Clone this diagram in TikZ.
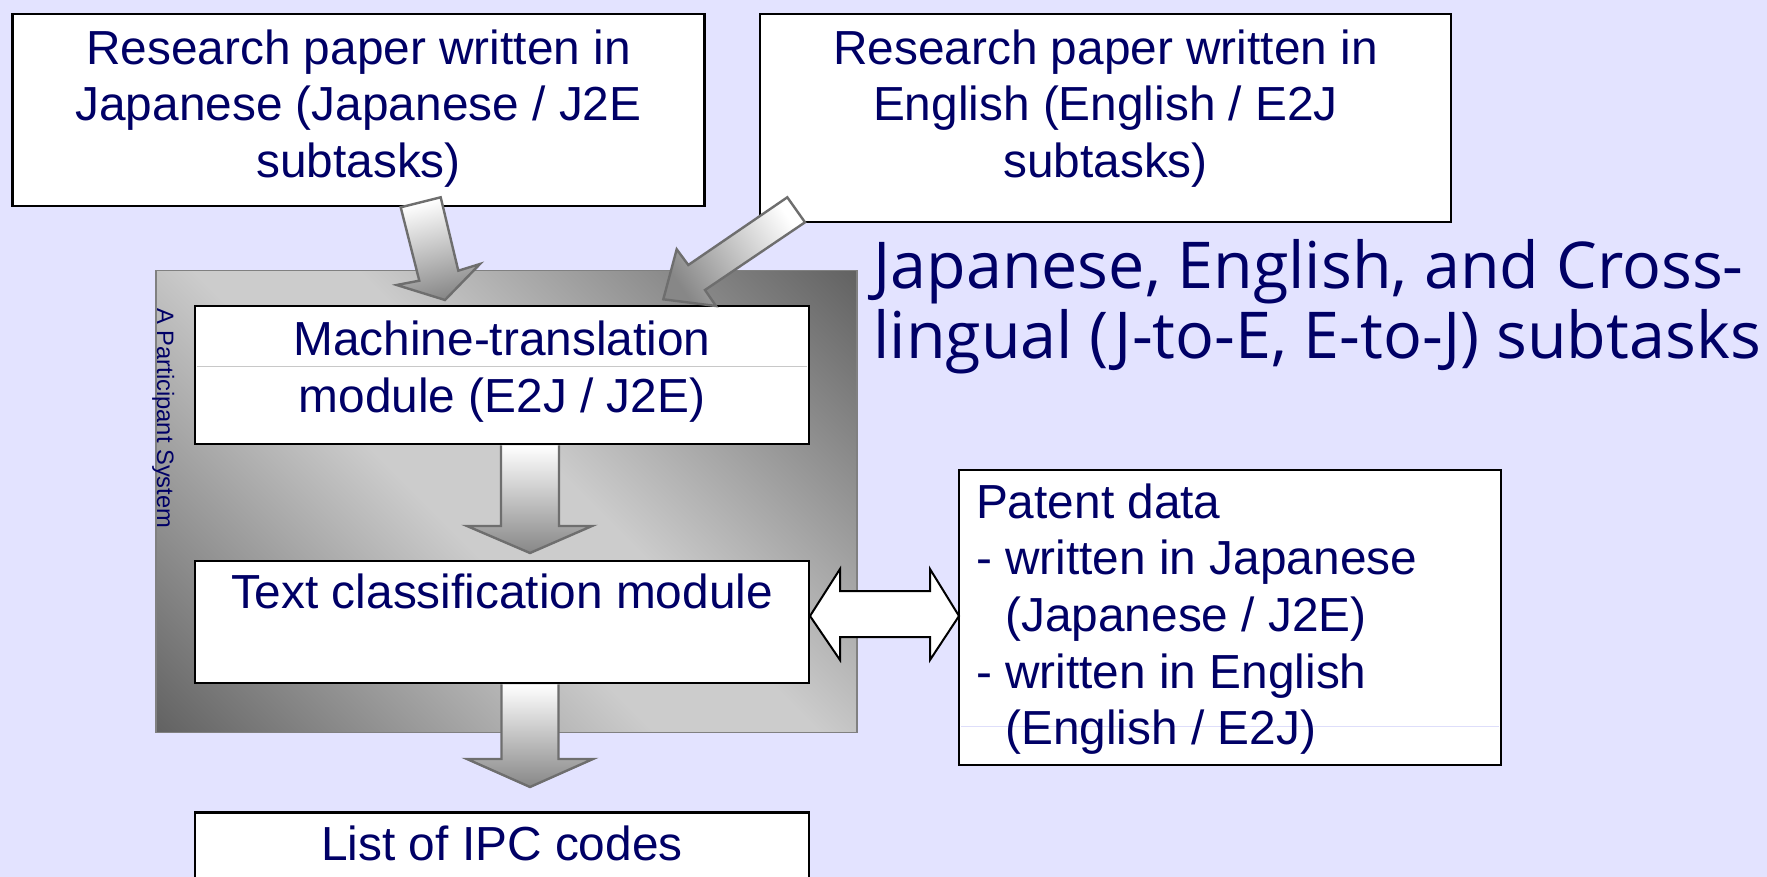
\documentclass[tikz,border=0pt]{standalone}
\usepackage{fontspec}
\setmainfont{Liberation Sans}
\newfontfamily\headfont{Open Sans}
\usetikzlibrary{calc}
\definecolor{pagebg}{RGB}{227,227,255}
\definecolor{ink}{RGB}{0,0,102}
\definecolor{framegray}{RGB}{128,128,128}
\definecolor{sysdark}{RGB}{96,96,96}
\definecolor{syslight}{RGB}{204,204,204}
\definecolor{arrowline}{RGB}{110,110,110}
\definecolor{tipgray}{RGB}{135,135,135}
\definecolor{ruleline}{RGB}{200,200,200}
\definecolor{rulelav}{RGB}{222,222,250}
% dark - light - dark ramp for the system frame
\pgfdeclareverticalshading{sysband}{100bp}{color(0bp)=(sysdark); color(14bp)=(sysdark);
  color(45bp)=(syslight); color(55bp)=(syslight); color(86bp)=(sysdark); color(100bp)=(sysdark)}
\begin{document}
\begin{tikzpicture}[x=0.5pt,y=-0.5pt,
  box/.style={draw=black, line width=1.35pt, fill=white, inner sep=0pt, outer sep=0pt},
  boxtext/.style={text=ink, font=\fontsize{23.9}{28.35}\selectfont, inner sep=0pt, align=center},
  blockarrow/.style={draw=arrowline, line width=1.2pt, line join=miter, top color=white, bottom color=tipgray},
  dblarrow/.style={draw=black, line width=1pt, line join=miter, fill=white},
]
% page
\fill[pagebg] (0,0) rectangle (1767,877);
\useasboundingbox (0,0) rectangle (1767,877);
\clip (0,0) rectangle (1767,877);

% participant system frame
\node[draw=framegray, line width=0.8pt, shading=sysband, shading angle=-45,
      inner sep=0pt, outer sep=0pt,
      minimum width=350.5pt, minimum height=231pt] (sys) at (506.5,501.5) {};
\node[rotate=-90, anchor=base west, text=ink, inner sep=0pt,
      font=\fontsize{11.85}{14}\selectfont] (syslabel) at (157,308) {A Participant System};

% boxes
\node[box, minimum width=346pt, minimum height=96pt] (paperJ) at (358.5,110) {};
\node[box, minimum width=345.5pt, minimum height=104pt] (paperE) at (1105.5,118) {};
\node[box, minimum width=307pt, minimum height=69pt] (mt) at (502,375) {};
\node[box, minimum width=307pt, minimum height=61pt] (tc) at (502,622) {};
\node[box, minimum width=307pt, minimum height=73.5pt] (ipc) at (502,886) {};
\node[box, minimum width=271pt, minimum height=147.5pt] (patent) at (1230,617.5) {};

% faint rules inside boxes
\draw[ruleline, line width=0.5pt] ($(mt.west)+(2,-9)$) -- ($(mt.east)+(-2,-9)$);
\draw[rulelav, line width=0.5pt] ($(patent.west)+(2,108.5)$) -- ($(patent.east)+(-2,108.5)$);

% box texts
\node[boxtext, anchor=north] (paperJtext) at (358.5,29.1)
  {Research paper written in\\Japanese (Japanese / J2E\\subtasks)};
\node[boxtext, anchor=north] (paperEtext) at (1105.5,29.1)
  {Research paper written in\\English (English / E2J\\subtasks)};
\node[boxtext, anchor=north] (mttext) at (502,320.3)
  {Machine-translation\\module (E2J / J2E)};
\node[boxtext, anchor=base] (tctext) at (502,608) {Text classification module};
\node[boxtext, anchor=base] (ipctext) at (502,860) {List of IPC codes};
\node[boxtext, align=left, anchor=north west] (patenttext) at (975.7,483.1)
  {Patent data\\- written in Japanese\\\hphantom{- }(Japanese / J2E)\\- written in English\\\hphantom{- }(English / E2J)};

% heading
\node[anchor=north west, text=ink, inner sep=0pt, align=left,
      font=\headfont\fontsize{32.3}{35}\selectfont] (title) at (873,239.5)
  {Japanese, English, and Cross-\\lingual (J-to-E, E-to-J) subtasks};

% vertical block arrows between modules
\coordinate (a1) at ($(mt.south)+(28,0)$);
\path[blockarrow] ($(a1)+(-29,1.4)$) -- ($(a1)+(-29,82)$) -- ($(a1)+(-63,82)$)
  -- ($(a1)+(0,109)$) -- ($(a1)+(62,82)$) -- ($(a1)+(29,82)$) -- ($(a1)+(29,1.4)$);
\coordinate (a2) at ($(tc.south)+(28,0)$);
\path[blockarrow] ($(a2)+(-28.5,1.4)$) -- ($(a2)+(-28.5,76)$) -- ($(a2)+(-63,76)$)
  -- ($(a2)+(0,104)$) -- ($(a2)+(63,76)$) -- ($(a2)+(28.5,76)$) -- ($(a2)+(28.5,1.4)$);

% slanted block arrows from the research papers
\path[blockarrow, shading angle=14] (400.7,207.3) -- (419.3,280.7) -- (396.7,285)
  -- (445,300) -- (480,264) -- (458.3,270.7) -- (440.7,197.3) -- cycle;
\path[blockarrow, shading angle=-56] (787.3,197.3) -- (805,222.3) -- (705,290)
  -- (716,306) -- (663.3,299.3) -- (676.7,249.3) -- (688.3,265) -- cycle;

% double arrow between classifier and patent data
\draw[dblarrow] (810,616) -- (840,569) -- (840,591) -- (930,591) -- (930,569)
  -- (959,616) -- (930,660) -- (930,637) -- (840,637) -- (840,660) -- cycle;
\end{tikzpicture}
\end{document}
